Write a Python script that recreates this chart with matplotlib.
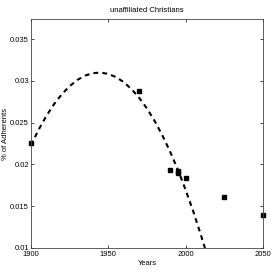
import matplotlib
matplotlib.use("Agg")
import matplotlib.pyplot as plt

plt.rcParams['font.family'] = ['Liberation Sans', 'DejaVu Sans']

# observed data points
years = [1900, 1970, 1990, 1995, 1995, 2000, 2025, 2050]
values = [0.02255, 0.0288, 0.01937, 0.0192, 0.01896, 0.01836, 0.0161, 0.0140]

# fitted curve
curve_years = [1900, 1905, 1910, 1915, 1920, 1925, 1930, 1935, 1940, 1945, 1950,
               1955, 1960, 1965, 1970, 1975, 1980, 1985, 1990, 1995, 2000,
               2005, 2010, 2012.5]
curve_values = [0.0223, 0.02419, 0.02583, 0.02724, 0.02842, 0.02938, 0.03012,
                0.03064, 0.03093, 0.03100, 0.03084, 0.03046, 0.02985, 0.02902,
                0.02797, 0.02670, 0.0252, 0.02347, 0.02153, 0.01936, 0.01696,
                0.01435, 0.0115, 0.0100]

xticks = [1900, 1950, 2000, 2050]
yticks = [0.01, 0.015, 0.02, 0.025, 0.03, 0.035]
ytick_labels = ['0.01', '0.015', '0.02', '0.025', '0.03', '0.035']

fig = plt.figure(figsize=(2.73, 2.73), dpi=100)
ax = fig.add_axes([0.1136, 0.0916, 0.8494, 0.8384])

ax.plot(curve_years, curve_values, color='black', linestyle=(0, (2.3, 2.0)),
        linewidth=1.5)
ax.plot(years, values, linestyle='none', marker='s', markersize=2.8,
        color='black', clip_on=False)

ax.set_xlim(1900, 2050)
ax.set_ylim(0.01, 0.0374)
ax.set_xticks(xticks)
ax.set_yticks(yticks)
ax.set_yticklabels(ytick_labels)
ax.tick_params(direction='in', length=2.5, width=0.5, labelsize=5.5,
               top=True, right=True, colors='black')
ax.tick_params(axis='x', pad=2.5)
ax.tick_params(axis='y', pad=1.5)
for s in ax.spines.values():
    s.set_linewidth(0.6)
    s.set_color('#444444')

ax.set_xlabel('Years', fontsize=5.5, labelpad=1)
ax.set_ylabel('% of Adherents', fontsize=5.5, labelpad=1)
ax.set_title('unaffiliated Christians', fontsize=5.5, pad=5)

fig.savefig('out.png', dpi=100)
